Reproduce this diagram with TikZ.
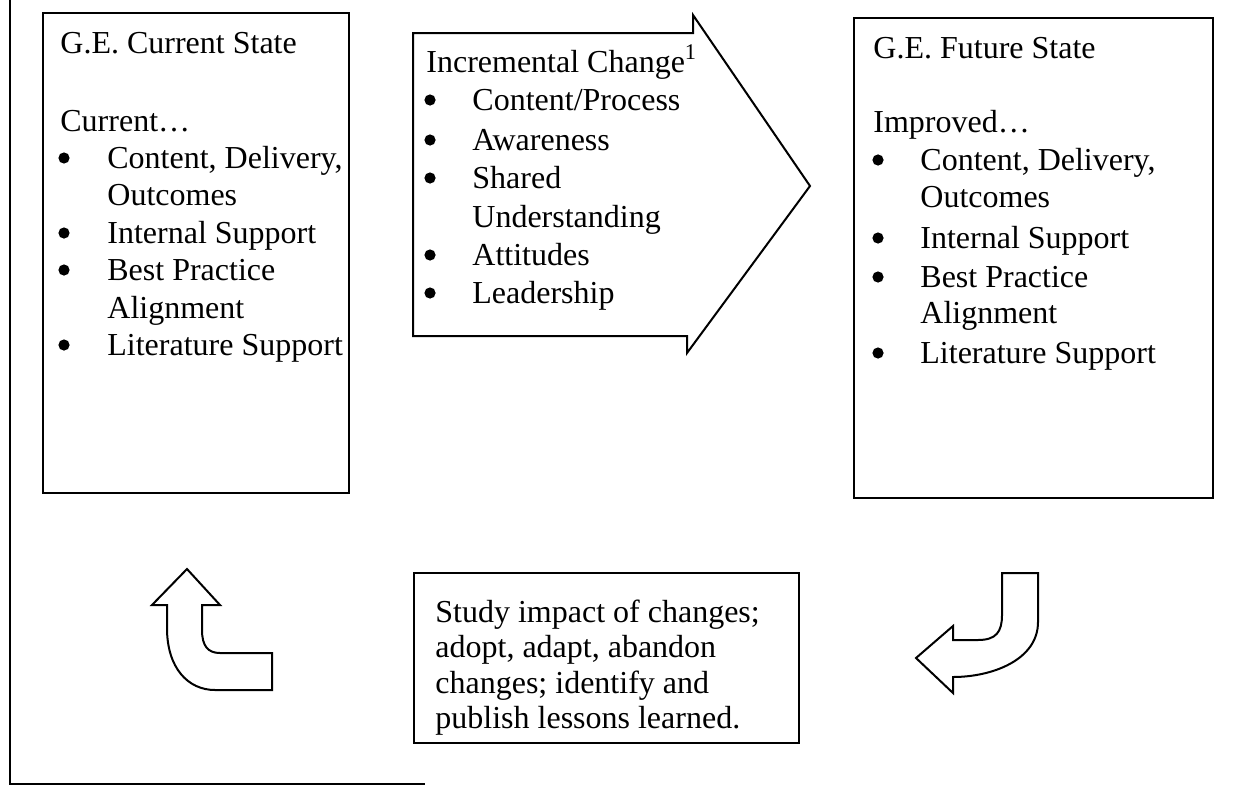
\documentclass[tikz,border=0pt]{standalone}
\usepackage{fontspec}
\setmainfont{Liberation Serif}
\usetikzlibrary{calc}

\tikzset{
  box/.style={draw,line width=1pt,anchor=north west,inner sep=0pt},
  txt/.style={anchor=base west,inner sep=0pt,font=\fontsize{16}{19}\selectfont},
  dot/.style={circle,fill,inner sep=0pt,minimum size=5.6pt},
  blob/.style={draw,line width=1pt,line join=miter,fill=white}
}

\begin{document}
\begin{tikzpicture}[x=0.5pt,y=-0.5pt]
  \useasboundingbox (0,0) rectangle (1251,787);

  % page frame (left and bottom only)
  \draw[line width=1pt] (10,0) -- (10,784) -- (425,784);

  % current state
  \node[box,minimum width=153pt,minimum height=240pt] (cur) at (42,12) {};
  \node[txt] (cur-t) at (60,53) {G.E. Current State};
  \node[txt] (cur-s) at (60,131) {Current\dots};
  \foreach \y in {168,243,280,355}
    \node[dot] (cur-b\y) at (64,\y-10) {};
  \foreach \y/\t in {168/{Content, Delivery,},205/Outcomes,243/Internal Support,280/Best Practice,318/Alignment,355/Literature Support}
    \node[txt] (cur-\y) at (107,\y) {\t};

  % incremental change arrow
  \draw[blob] (413,33) -- (693,33) -- (693,15) -- (810,186) -- (687,353) -- (687,336) -- (413,336) -- cycle;
  \node[txt] (inc-t) at (426,72) {Incremental Change\textsuperscript{1}};
  \foreach \y in {110,150,188,265,303}
    \node[dot] (inc-b\y) at (430,\y-10) {};
  \foreach \y/\t in {110/{Content/Process},150/Awareness,188/Shared,227/Understanding,265/Attitudes,303/Leadership}
    \node[txt] (inc-\y) at (472,\y) {\t};

  % future state
  \node[box,minimum width=179.5pt,minimum height=240pt] (fut) at (853,17) {};
  \node[txt] (fut-t) at (873,58) {G.E. Future State};
  \node[txt] (fut-s) at (873,132) {Improved\dots};
  \foreach \y in {170,248,287,363}
    \node[dot] (fut-b\y) at (878,\y-10) {};
  \foreach \y/\t in {170/{Content, Delivery,},207/Outcomes,248/Internal Support,287/Best Practice,323/Alignment,363/Literature Support}
    \node[txt] (fut-\y) at (920,\y) {\t};

  % study box
  \node[box,minimum width=192.5pt,minimum height=85pt] (study) at (413,572) {};
  \foreach \y/\t in {622/Study impact of changes;,657/{adopt, adapt, abandon},693/changes; identify and,728/publish lessons learned.}
    \node[txt] (study-\y) at (435,\y) {\t};

  % turning arrows
  \draw[blob] (187,569) -- (220,605) -- (202,605) -- (202,630)
    .. controls (202,646) and (208,653) .. (220,653) -- (272,653) -- (272,690) -- (215,690)
    .. controls (188,690) and (167,668) .. (167,628) -- (167,605) -- (152,605) -- cycle;
  \draw[blob] (1002,573) -- (1038,573) -- (1038,622)
    .. controls (1038,660) and (992,677) .. (953,677) -- (953,693) -- (916,658) -- (953,626) -- (953,640)
    -- (978,640) .. controls (996,640) and (1002,632) .. (1002,615) -- cycle;
\end{tikzpicture}
\end{document}
